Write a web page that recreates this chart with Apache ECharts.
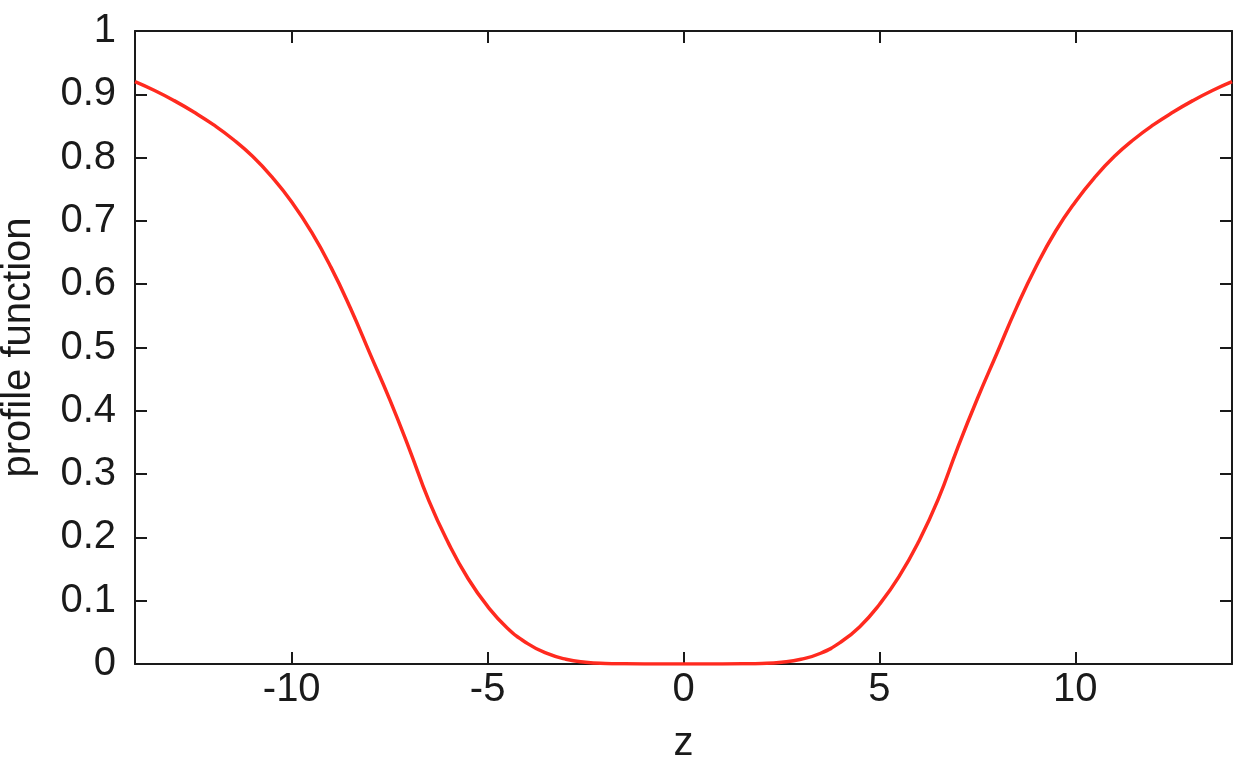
<!DOCTYPE html>
<html lang="en">
<head>
    <meta charset="UTF-8">
    <title>profile function</title>
    <script src="https://cdn.jsdelivr.net/npm/echarts@6/dist/echarts.min.js"></script>
    <style>
        html, body { margin: 0; padding: 0; background: #fff; }
        #main { width: 1254px; height: 762px; }
    </style>
</head>
<body>
<div id="main"></div>
<script>
    // z positions (step 0.5) and profile values
    var zValues = [-14, -13.5, -13, -12.5, -12, -11.5, -11, -10.5, -10, -9.5, -9, -8.5, -8, -7.5, -7, -6.5, -6, -5.5, -5, -4.5, -4, -3.5, -3, -2.5, -2, -1.5, -1, -0.5,
        0, 0.5, 1, 1.5, 2, 2.5, 3, 3.5, 4, 4.5, 5, 5.5, 6, 6.5, 7, 7.5, 8, 8.5, 9, 9.5, 10, 10.5, 11, 11.5, 12, 12.5, 13, 13.5, 14]
    var profile = [0.920, 0.906, 0.890, 0.872, 0.852, 0.829, 0.802, 0.769, 0.730, 0.683, 0.627, 0.562, 0.490, 0.418, 0.340, 0.258, 0.191, 0.135, 0.091, 0.057, 0.033, 0.017, 0.0075, 0.0028, 0.0008, 0.0002, 0, 0,
        0, 0, 0, 0.0002, 0.0008, 0.0028, 0.0075, 0.017, 0.034, 0.059, 0.094, 0.138, 0.193, 0.260, 0.342, 0.419, 0.491, 0.563, 0.628, 0.684, 0.730, 0.769, 0.802, 0.829, 0.852, 0.872, 0.890, 0.906, 0.920]
    var xTicks = [-10, -5, 0, 5, 10]

    var chart = echarts.init(document.getElementById('main'))
    var font = '"Liberation Sans", Arial, sans-serif'
    var black = '#1a1a1a'

    var points = []
    for (var i = 0; i < zValues.length; i++) {
        points.push([zValues[i], profile[i]])
    }

    // gnuplot style: ticks inside, mirrored on top and right
    function xAxisCfg(pos, labels) {
        return {
            type: 'value',
            position: pos,
            min: -14,
            max: 14,
            name: labels ? 'z' : '',
            nameLocation: 'middle',
            nameGap: 60,
            nameTextStyle: { fontFamily: font, fontSize: 40, color: black },
            axisLine: { show: true, onZero: false, lineStyle: { color: black, width: 2 } },
            axisTick: { show: true, inside: true, length: 12, customValues: xTicks, lineStyle: { color: black, width: 2 } },
            axisLabel: { show: labels, customValues: xTicks, margin: 6, fontFamily: font, fontSize: 40, color: black },
            splitLine: { show: false }
        }
    }

    function yAxisCfg(pos, labels) {
        return {
            type: 'value',
            position: pos,
            min: 0,
            max: 1,
            interval: 0.1,
            name: labels ? 'profile function' : '',
            nameLocation: 'middle',
            nameGap: 96,
            nameTextStyle: { fontFamily: font, fontSize: 40, color: black },
            axisLine: { show: true, onZero: false, lineStyle: { color: black, width: 2 } },
            axisTick: { show: true, inside: true, length: 12, lineStyle: { color: black, width: 2 } },
            axisLabel: { show: labels, margin: 19, fontFamily: font, fontSize: 40, color: black },
            splitLine: { show: false }
        }
    }

    var option = {
        backgroundColor: '#fff',
        animation: false,
        grid: { left: 135, right: 22, top: 31, bottom: 98, outerBoundsMode: 'none' },
        xAxis: [xAxisCfg('bottom', true), xAxisCfg('top', false)],
        yAxis: [yAxisCfg('left', true), yAxisCfg('right', false)],
        series: [{
            type: 'line',
            xAxisIndex: 0,
            yAxisIndex: 0,
            data: points,
            smooth: 0.5,
            showSymbol: false,
            lineStyle: { color: '#ff2a1f', width: 3.5 }
        }]
    }

    chart.setOption(option)
</script>
</body>
</html>
